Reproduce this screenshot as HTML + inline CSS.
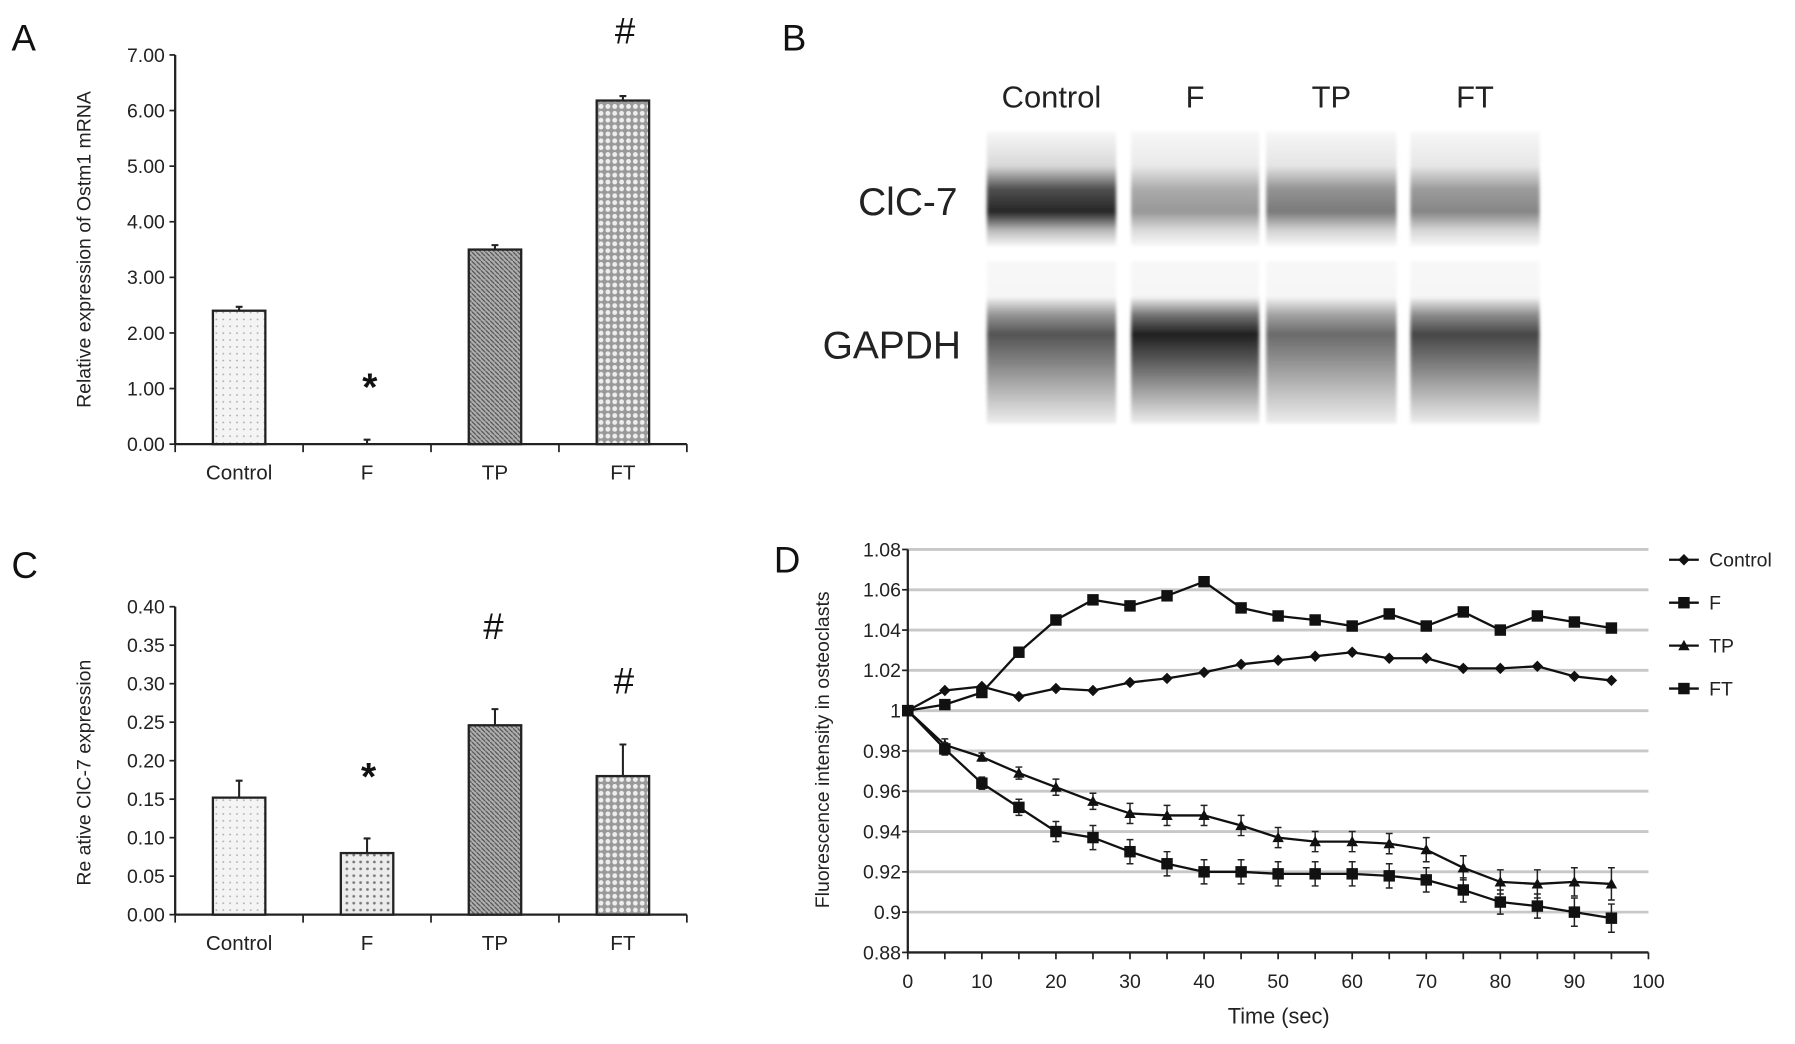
<!DOCTYPE html>
<html><head><meta charset="utf-8"><style>
html,body{margin:0;padding:0;background:#fff;width:1795px;height:1044px;overflow:hidden}
svg{display:block;font-family:"Liberation Sans",Arial,sans-serif}
</style></head><body>
<svg id="fig" width="1795" height="1044" viewBox="0 0 1568 912" xmlns="http://www.w3.org/2000/svg">
<defs>
<pattern id="pCtrl" width="6" height="6" patternUnits="userSpaceOnUse"><rect width="6" height="6" fill="#f4f4f4"/><circle cx="3" cy="3" r="0.8" fill="#aaa"/></pattern>
<pattern id="pF" width="6" height="6" patternUnits="userSpaceOnUse"><rect width="6" height="6" fill="#ececec"/><circle cx="3" cy="3" r="1.2" fill="#777"/></pattern>
<pattern id="pTP" width="4" height="4" patternUnits="userSpaceOnUse"><rect width="4" height="4" fill="#b0b0b0"/><path d="M0,0L4,4" stroke="#555" stroke-width="1.1"/></pattern>
<pattern id="pFT" width="6" height="6" patternUnits="userSpaceOnUse"><rect width="6" height="6" fill="#999"/><circle cx="3" cy="3" r="2.1" fill="#eee"/></pattern>
<filter id="blur" x="-5%" y="-5%" width="110%" height="110%"><feGaussianBlur stdDeviation="1.5"/></filter>
</defs>
<g id="A"></g>
<g id="B"></g>
<g id="C"></g>
<g id="D"></g>
</svg>
<script>
// Panel A data
const catsA = ["Control","F","TP","FT"];
const valsA = [2.40, 0.0, 3.50, 6.18];
const errA = [0.07, 0.08, 0.08, 0.08];
const ticksA = ["0.00","1.00","2.00","3.00","4.00","5.00","6.00","7.00"];
// Panel C data
const catsC = ["Control","F","TP","FT"];
const valsC = [0.152, 0.080, 0.246, 0.180];
const errC = [0.022, 0.019, 0.021, 0.041];
const ticksC = ["0.00","0.05","0.10","0.15","0.20","0.25","0.30","0.35","0.40"];
// Panel D data
const timeD = [0,5,10,15,20,25,30,35,40,45,50,55,60,65,70,75,80,85,90,95];
const ctrlD = [1,1.010,1.012,1.007,1.011,1.010,1.014,1.016,1.019,1.023,1.025,1.027,1.029,1.026,1.026,1.021,1.021,1.022,1.017,1.015];
const fD = [1,1.003,1.009,1.029,1.045,1.055,1.052,1.057,1.064,1.051,1.047,1.045,1.042,1.048,1.042,1.049,1.040,1.047,1.044,1.041];
const tpD = [1,0.983,0.977,0.969,0.962,0.955,0.949,0.948,0.948,0.943,0.937,0.935,0.935,0.934,0.931,0.922,0.915,0.914,0.915,0.914];
const ftD = [1,0.981,0.964,0.952,0.940,0.937,0.930,0.924,0.920,0.920,0.919,0.919,0.919,0.918,0.916,0.911,0.905,0.903,0.900,0.897];
const tpErr = [0,0.003,0.002,0.003,0.004,0.004,0.005,0.005,0.005,0.005,0.005,0.005,0.005,0.005,0.006,0.006,0.006,0.007,0.007,0.008];
const ftErr = [0,0.003,0.003,0.004,0.005,0.006,0.006,0.006,0.006,0.006,0.006,0.006,0.006,0.006,0.006,0.006,0.006,0.006,0.007,0.007];
const ticksDY = ["0.88","0.9","0.92","0.94","0.96","0.98","1","1.02","1.04","1.06","1.08"];
const ticksDX = ["0","10","20","30","40","50","60","70","80","90","100"];
const legendD = ["Control","F","TP","FT"];
const gelLanes = ["Control","F","TP","FT"];
const clcInt = [0.92, 0.42, 0.55, 0.50];
const gapdhInt = [0.72, 0.95, 0.62, 0.78];

const NS="http://www.w3.org/2000/svg";
function mk(tag, attrs, parent, text){const e=document.createElementNS(NS,tag);for(const k in attrs)e.setAttribute(k,attrs[k]);if(text!==undefined)e.textContent=text;parent.appendChild(e);return e;}

function barChart(g, cats, vals, errs, ticks, x0, x1, yTop, yBot, maxV, fills, ytitle, yTitleY){
  const y = v => yBot - v/maxV*(yBot-yTop);
  const band = (x1-x0)/cats.length;
  let ax = mk('line',{x1:x0,y1:yTop,x2:x0,y2:yBot,stroke:'#222','stroke-width':2},g);
   
  let bx = mk('line',{x1:x0,y1:yBot,x2:x1,y2:yBot,stroke:'#222','stroke-width':2},g);
   
  ticks.forEach((t)=>{const v=parseFloat(t);const yy=y(v);
    mk('line',{x1:x0-5,y1:yy,x2:x0,y2:yy,stroke:'#222','stroke-width':1.5},g);
    const tl=mk('text',{x:x0-9,y:yy+6,'text-anchor':'end','font-size':17,fill:'#222'},g,t);
     });
  for(let i=0;i<=cats.length;i++) mk('line',{x1:x0+i*band,y1:yBot,x2:x0+i*band,y2:yBot+7,stroke:'#222','stroke-width':1.5},g);
  cats.forEach((c,i)=>{const cx=x0+band*(i+0.5);const w=band*0.41;
    if(vals[i]>0){const r=mk('rect',{x:cx-w/2,y:y(vals[i]),width:w,height:yBot-y(vals[i]),fill:fills[i],stroke:'#222','stroke-width':2},g);
       }
    const ye=y(vals[i]+errs[i]);
    const eb=mk('path',{d:`M${cx},${y(vals[i])}V${ye}M${cx-3},${ye}H${cx+3}`,stroke:'#222','stroke-width':1.8,fill:'none'},g);
     
    const xl=mk('text',{x:cx,y:yBot+31,'text-anchor':'middle','font-size':18,fill:'#222'},g,c);
     });
  const yt=mk('text',{x:0,y:0,transform:`translate(79,${yTitleY}) rotate(-90)`,'text-anchor':'middle','font-size':17,fill:'#222'},g,ytitle);
   
  return {y, band};
}
const fills=['url(#pCtrl)','url(#pF)','url(#pTP)','url(#pFT)'];
// A
const gA=document.getElementById('A');
let l=mk('text',{x:10,y:44,'font-size':32,fill:'#111'},gA,'A');  
barChart(gA,catsA,valsA,errA,ticksA,153,600,48,388,7,fills,'Relative expression of Ostm1 mRNA',218);
let s1=mk('text',{x:323,y:350,'text-anchor':'middle','font-size':34,'font-weight':'bold',fill:'#111'},gA,'*');  
let h1=mk('text',{x:546,y:38,'text-anchor':'middle','font-size':32,fill:'#111'},gA,'#');  
// C
const gC=document.getElementById('C');
l=mk('text',{x:10,y:505,'font-size':32,fill:'#111'},gC,'C');  
barChart(gC,catsC,valsC,errC,ticksC,153,600,530,799,0.40,fills,'Re ative  ClC-7 expression',675);
let s2=mk('text',{x:322,y:690,'text-anchor':'middle','font-size':34,'font-weight':'bold',fill:'#111'},gC,'*');  
let h2=mk('text',{x:431,y:558,'text-anchor':'middle','font-size':32,fill:'#111'},gC,'#');  
let h3=mk('text',{x:545,y:606,'text-anchor':'middle','font-size':32,fill:'#111'},gC,'#');  
// B gel
const gB=document.getElementById('B');
l=mk('text',{x:683,y:44,'font-size':32,fill:'#111'},gB,'B');  
const laneX=[862,988,1106,1232], laneW=[113,112,114,113];
const defs=document.querySelector('defs');
function grad(id, stops){const lg=mk('linearGradient',{id:id,x1:0,y1:0,x2:0,y2:1},defs);stops.forEach(s=>mk('stop',{offset:s[0],'stop-color':`rgb(${s[1]},${s[1]},${s[1]})`},lg));}
const gv = k => Math.round(247-k*227);
gelLanes.forEach((n,i)=>{
  const cx=laneX[i]+laneW[i]/2;
  const lab=mk('text',{x:cx,y:94,'text-anchor':'middle','font-size':27,fill:'#222'},gB,n);
   
  const c=clcInt[i]; grad('gc'+i,[[0,247],[0.3,gv(c*0.15)],[0.5,gv(c*0.8)],[0.7,gv(c)],[0.86,gv(c*0.3)],[1,248]]);
  const r1=mk('rect',{x:laneX[i],y:115,width:laneW[i],height:100,fill:`url(#gc${i})`,filter:'url(#blur)'},gB);
   
  const d=gapdhInt[i]; grad('gg'+i,[[0,248],[0.22,246],[0.33,gv(d*0.6)],[0.45,gv(d)],[0.6,gv(d*0.75)],[0.8,gv(d*0.4)],[1,238]]);
  const r2=mk('rect',{x:laneX[i],y:228,width:laneW[i],height:142,fill:`url(#gg${i})`,filter:'url(#blur)'},gB);
   
});
let t1=mk('text',{x:793,y:188,'text-anchor':'middle','font-size':34,fill:'#222'},gB,'ClC-7');  
let t2=mk('text',{x:779,y:313,'text-anchor':'middle','font-size':34,fill:'#222'},gB,'GAPDH');  
// D
const gD=document.getElementById('D');
l=mk('text',{x:676,y:500,'font-size':32,fill:'#111'},gD,'D');  
const X0=793,X1=1440,YT=480,YB=832;
const xs=v=>X0+v/100*(X1-X0), ys=v=>YB-(v-0.88)/0.2*(YB-YT);
ticksDY.forEach(t=>{const v=parseFloat(t),yy=ys(v);
  if(v>0.881){const gl=mk('line',{x1:X0,y1:yy,x2:X1,y2:yy,stroke:'#c8c8c8','stroke-width':2.5},gD);}
  mk('line',{x1:X0-5,y1:yy,x2:X0,y2:yy,stroke:'#222','stroke-width':1.5},gD);
  const tl=mk('text',{x:X0-6,y:yy+6,'text-anchor':'end','font-size':17,fill:'#222'},gD,t);});
ticksDX.forEach(t=>{const v=parseFloat(t),xx=xs(v);
  const tl=mk('text',{x:xx,y:YB+31,'text-anchor':'middle','font-size':17,fill:'#222'},gD,t);});
for(let v=0;v<=100;v+=5) mk('line',{x1:xs(v),y1:YB,x2:xs(v),y2:YB+6,stroke:'#222','stroke-width':1.5},gD);
let ay=mk('line',{x1:X0,y1:YT,x2:X0,y2:YB,stroke:'#222','stroke-width':2},gD);
let axx=mk('line',{x1:X0,y1:YB,x2:X1,y2:YB,stroke:'#222','stroke-width':2},gD);
let xt=mk('text',{x:1117,y:894,'text-anchor':'middle','font-size':19,fill:'#222'},gD,'Time (sec)');
let yt=mk('text',{x:0,y:0,transform:'translate(724,655) rotate(-90)','text-anchor':'middle','font-size':17,fill:'#222'},gD,'Fluorescence intensity in osteoclasts');
function marker(g,shape,x,y){
  if(shape==='diamond') return mk('path',{d:`M${x},${y-5}L${x+5},${y}L${x},${y+5}L${x-5},${y}Z`,fill:'#111'},g);
  if(shape==='square') return mk('rect',{x:x-5,y:y-5,width:10,height:10,fill:'#111'},g);
  return mk('path',{d:`M${x},${y-5}L${x+5},${y+4}L${x-5},${y+4}Z`,fill:'#111'},g);
}
const series=[[ctrlD,null,'diamond','control'],[fD,null,'square','f'],[tpD,tpErr,'triangle','tp'],[ftD,ftErr,'square','ft']];
series.forEach(([vals,errs,shape,name])=>{
  const sg=mk('g',{},gD);  
  if(errs) vals.forEach((v,i)=>{if(errs[i]>0){const x=xs(timeD[i]),a=ys(v+errs[i]),b=ys(v-errs[i]);
    const e=mk('path',{d:`M${x},${a}V${b}M${x-3},${a}H${x+3}M${x-3},${b}H${x+3}`,stroke:'#222','stroke-width':1.3,fill:'none'},sg);}});
  const ln=mk('polyline',{points:vals.map((v,i)=>xs(timeD[i])+','+ys(v)).join(' '),fill:'none',stroke:'#111','stroke-width':2},sg);
   
  vals.forEach((v,i)=>{const m=marker(sg,shape,xs(timeD[i]),ys(v));});
});
const legShapes=['diamond','square','triangle','square'];
legendD.forEach((n,i)=>{const yy=489+i*37.5;
  const lg=mk('g',{},gD);  
  mk('line',{x1:1458,y1:yy,x2:1484,y2:yy,stroke:'#111','stroke-width':2},lg);
  marker(lg,legShapes[i],1471,yy);
  mk('text',{x:1493,y:yy+6,'font-size':17,fill:'#222'},lg,n);});
</script>
</body></html>
